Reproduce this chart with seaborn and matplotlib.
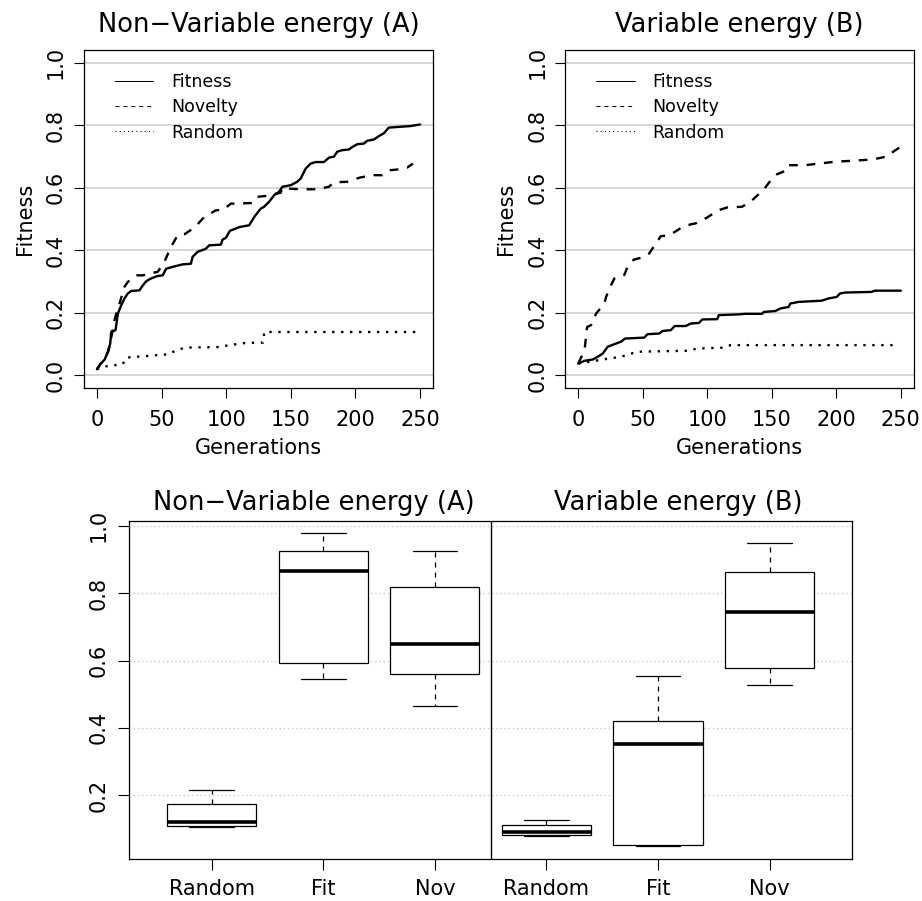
import numpy as np
import pandas as pd
import matplotlib
matplotlib.use("Agg")
import matplotlib.pyplot as plt
import seaborn as sns
from matplotlib.lines import Line2D

# ---------------- data ----------------
# Panel A: Non-Variable energy
gens_fit_a = [0, 3, 6, 8.5, 10.3, 11, 14.4, 16.2, 18.8, 21.3, 23.9, 26.5, 32.9, 35.5, 38.1,
              41.9, 47, 50.9, 53.5, 58.6, 66.3, 72.7, 74, 77.9, 84.3, 86.9, 95.9, 97.2, 99.8,
              102.8, 110, 117.8, 121.6, 126.7, 129.3, 133.2, 137.1, 140.9, 143.5, 149.9, 155,
              157.6, 161.5, 165.3, 169.2, 175.6, 179.5, 183.3, 185.9, 189.8, 194.9, 197.5,
              201.4, 206.5, 209.1, 214.2, 218.2, 222, 225.8, 232.2, 242.7, 250]
vals_fit_a = [0.020, 0.038, 0.051, 0.076, 0.102, 0.139, 0.145, 0.198, 0.224, 0.246, 0.262,
              0.270, 0.272, 0.288, 0.301, 0.310, 0.318, 0.320, 0.341, 0.347, 0.355, 0.357,
              0.379, 0.395, 0.405, 0.416, 0.418, 0.434, 0.440, 0.462, 0.474, 0.480, 0.506,
              0.533, 0.539, 0.555, 0.576, 0.587, 0.603, 0.608, 0.619, 0.629, 0.661, 0.677,
              0.682, 0.682, 0.696, 0.699, 0.715, 0.720, 0.722, 0.730, 0.739, 0.741, 0.750,
              0.754, 0.765, 0.774, 0.792, 0.794, 0.797, 0.802]

gens_nov_a = [0, 3, 6, 9, 11, 13.6, 15, 17.5, 21.3, 23.9, 30.3, 35.5, 43.2, 47, 52.2, 57.3,
              62.5, 67.6, 75.3, 83, 92.1, 97.2, 103.6, 120.3, 124.2, 131.9, 142.2, 143.5,
              157.6, 170.5, 179.5, 183.3, 193.6, 203.9, 214.2, 220.6, 227.1, 232.2, 239.9, 244.5]
vals_nov_a = [0.020, 0.038, 0.050, 0.080, 0.120, 0.177, 0.198, 0.230, 0.283, 0.299, 0.320,
              0.320, 0.328, 0.331, 0.363, 0.411, 0.448, 0.451, 0.472, 0.506, 0.528, 0.528,
              0.549, 0.551, 0.571, 0.574, 0.584, 0.598, 0.595, 0.595, 0.603, 0.617, 0.619,
              0.633, 0.640, 0.640, 0.656, 0.658, 0.664, 0.677]

gens_rnd_a = [0, 4.6, 20, 22.6, 56, 61.2, 68.9, 94.6, 102.3, 115.2, 128.5, 129.5, 248]
vals_rnd_a = [0.020, 0.028, 0.036, 0.057, 0.068, 0.081, 0.089, 0.091, 0.097, 0.104, 0.105,
              0.139, 0.139]

# Panel B: Variable energy
gens_fit_b = [0, 4.9, 11.3, 15.2, 19, 22.9, 28, 33.2, 36.3, 51.2, 53.8, 62.8, 65.3, 71.8,
              74.8, 83.3, 87.2, 93.6, 96.2, 107.8, 109, 123.2, 129.6, 142.5, 143.8, 152.8,
              156.6, 163.1, 164.4, 170.8, 188.8, 193.9, 200.4, 202.9, 206.8, 227.4, 229.9, 250]
vals_fit_b = [0.038, 0.047, 0.051, 0.060, 0.070, 0.092, 0.100, 0.108, 0.118, 0.121, 0.132,
              0.134, 0.142, 0.145, 0.158, 0.158, 0.166, 0.168, 0.179, 0.180, 0.193, 0.195,
              0.197, 0.197, 0.203, 0.206, 0.214, 0.219, 0.230, 0.235, 0.239, 0.246, 0.251,
              0.262, 0.265, 0.267, 0.271, 0.271]

gens_nov_b = [0, 4.9, 6.9, 10, 13.9, 20.3, 21.6, 25.5, 28, 35.7, 38.2, 43, 51.2, 55, 60.2,
              64, 70.5, 76.9, 80.8, 87.2, 91, 100, 102.6, 110.3, 115.5, 127, 134.8, 143.8,
              150.2, 154.1, 161.8, 163.1, 176, 186.3, 199.1, 212, 227.4, 235.1, 240.2, 244.1, 250]
vals_nov_b = [0.038, 0.081, 0.155, 0.161, 0.198, 0.230, 0.251, 0.289, 0.310, 0.321, 0.347,
              0.370, 0.379, 0.390, 0.422, 0.445, 0.448, 0.464, 0.475, 0.483, 0.486, 0.505,
              0.512, 0.530, 0.537, 0.539, 0.560, 0.594, 0.629, 0.643, 0.656, 0.672, 0.672,
              0.677, 0.683, 0.686, 0.690, 0.696, 0.701, 0.715, 0.731]

gens_rnd_b = [0, 19, 33.2, 46, 84.6, 92.3, 112.9, 118.1, 244]
vals_rnd_b = [0.038, 0.051, 0.060, 0.076, 0.079, 0.086, 0.089, 0.097, 0.097]

# Box plots: five-number summaries (min, Q1, median, Q3, max)
box_groups = ["Random", "Fit", "Nov"]
box_a = {"Random": [0.106, 0.110, 0.122, 0.173, 0.215],
         "Fit":    [0.545, 0.593, 0.865, 0.926, 0.977],
         "Nov":    [0.465, 0.560, 0.648, 0.817, 0.924]}
box_b = {"Random": [0.079, 0.082, 0.092, 0.113, 0.126],
         "Fit":    [0.049, 0.053, 0.351, 0.420, 0.555],
         "Nov":    [0.527, 0.577, 0.745, 0.864, 0.948]}

title_a = "Non\u2212Variable energy (A)"
title_b = "Variable energy (B)"
legend_labels = ["Fitness", "Novelty", "Random"]
x_ticks = [0, 50, 100, 150, 200, 250]
y_ticks = [0.0, 0.2, 0.4, 0.6, 0.8, 1.0]
box_y_ticks = [0.2, 0.4, 0.6, 0.8, 1.0]

# ---------------- styling ----------------
sns.set_style("ticks")
plt.rcParams["font.family"] = ["DejaVu Sans"]
plt.rcParams["axes.edgecolor"] = "black"
plt.rcParams["axes.linewidth"] = 0.9
plt.rcParams["text.color"] = "black"
plt.rcParams["axes.labelcolor"] = "black"
plt.rcParams["axes.titlecolor"] = "black"
plt.rcParams["xtick.color"] = "black"
plt.rcParams["ytick.color"] = "black"
plt.rcParams["xtick.labelcolor"] = "black"
plt.rcParams["ytick.labelcolor"] = "black"

W, H = 922, 901
fig = plt.figure(figsize=(W / 100, H / 100), dpi=100)

def rect(l, t, r, b):
    return [l / W, 1 - b / H, (r - l) / W, (b - t) / H]

ax1 = fig.add_axes(rect(84, 50, 433, 388))
ax2 = fig.add_axes(rect(565.3, 50, 913.7, 388))
ax3 = fig.add_axes(rect(129, 521, 852.3, 859))

TICK_FS = 15
TITLE_FS = 18.5
LEG_FS = 12.5
styles = {"Fitness": "-", "Novelty": (0, (3.7, 3.7)), "Random": (0, (1.0, 2.8))}


def top_panel(ax, title, series, ylab_x):
    for name, (g, v) in zip(legend_labels, series):
        sns.lineplot(x=g, y=v, ax=ax, color="black", lw=1.7, linestyle=styles[name],
                     estimator=None, sort=False, legend=False)
    ax.set_xlim(-10, 260)
    ax.set_ylim(-0.04, 1.04)
    ax.set_xticks(x_ticks)
    ax.set_xticklabels([str(t) for t in x_ticks])
    ax.set_yticks(y_ticks)
    ax.set_yticklabels([f"{t:.1f}" for t in y_ticks], rotation=90, va="center")
    ax.yaxis.grid(True, color="#d3d3d3", lw=1.3)
    ax.xaxis.grid(False)
    ax.set_axisbelow(True)
    ax.tick_params(axis="both", length=7.5, width=0.8, color="black", labelcolor="black",
                   labelsize=TICK_FS)
    ax.tick_params(axis="x", pad=8.6)
    ax.tick_params(axis="y", pad=5.5)
    for s in ax.spines.values():
        s.set_visible(True)
        s.set_color("black")
    ax.set_title(title, fontsize=TITLE_FS, pad=13, color="black")
    ax.set_xlabel("Generations", fontsize=TICK_FS, color="black")
    ax.set_ylabel("Fitness", fontsize=TICK_FS, color="black")
    ax.xaxis.label.set_va("baseline")
    ax.yaxis.label.set_va("baseline")
    ax.xaxis.set_label_coords(0.5, -(454 - 388) / 338)
    ax.yaxis.set_label_coords(ylab_x, 0.5)
    handles = [Line2D([], [], color="black", lw=0.75, linestyle="-"),
               Line2D([], [], color="black", lw=0.75, linestyle=(0, (3.8, 3.8))),
               Line2D([], [], color="black", lw=0.75, linestyle=(0, (1.0, 3.0)))]
    leg = ax.legend(handles, legend_labels, loc="upper left", bbox_to_anchor=(0.089, 0.931),
                    frameon=False, fontsize=LEG_FS, handlelength=2.2, handletextpad=1.05,
                    labelspacing=0.41, borderpad=0, borderaxespad=0)
    for t in leg.get_texts():
        t.set_color("black")


top_panel(ax1, title_a,
          [(gens_fit_a, vals_fit_a), (gens_nov_a, vals_nov_a), (gens_rnd_a, vals_rnd_a)],
          (30.7 - 84) / 349)
top_panel(ax2, title_b,
          [(gens_fit_b, vals_fit_b), (gens_nov_b, vals_nov_b), (gens_rnd_b, vals_rnd_b)],
          (511.7 - 565.3) / 348.4)

# ---------------- bottom box plots ----------------
rows = []
order = []
for cond, d in (("A", box_a), ("B", box_b)):
    for g in box_groups:
        key = f"{cond}-{g}"
        order.append(key)
        for val in d[g]:
            rows.append({"group": key, "value": val})
df_box = pd.DataFrame(rows)

sns.boxplot(data=df_box, x="group", y="value", order=order, ax=ax3, color="white",
            linecolor="black", linewidth=0.9, width=0.8, whis=(0, 100), fliersize=0,
            medianprops=dict(linewidth=2.6, color="black"),
            whiskerprops=dict(linestyle=(0, (4, 4)), linewidth=0.9, color="black"),
            capprops=dict(linewidth=0.9, color="black"))
ax3.set_xlim(-0.74, 5.74)
ax3.set_ylim(0.011, 1.014)
ax3.axvline(2.5, color="black", lw=1.0)
ax3.set_xticks(range(len(order)))
ax3.set_xticklabels(box_groups * 2)
ax3.set_yticks(box_y_ticks)
ax3.set_yticklabels([f"{t:.1f}" for t in box_y_ticks], rotation=90, va="center")
ax3.yaxis.grid(True, color="#c8c8c8", lw=1.0, linestyle=(0, (1, 2)))
ax3.xaxis.grid(False)
ax3.set_axisbelow(True)
ax3.set_xlabel("")
ax3.set_ylabel("")
ax3.tick_params(axis="both", length=7.7, width=0.8, color="black", labelcolor="black",
                labelsize=TICK_FS)
ax3.tick_params(axis="x", pad=6.5)
ax3.tick_params(axis="y", pad=7.2)
for s in ax3.spines.values():
    s.set_visible(True)
    s.set_color("black")
ax3.text((314 - 129) / 723.3, 1 + (521 - 510.5) / 338, title_a, transform=ax3.transAxes,
         ha="center", va="baseline", fontsize=TITLE_FS, color="black")
ax3.text((678 - 129) / 723.3, 1 + (521 - 510.5) / 338, title_b, transform=ax3.transAxes,
         ha="center", va="baseline", fontsize=TITLE_FS, color="black")

fig.savefig("out.png", dpi=100)
